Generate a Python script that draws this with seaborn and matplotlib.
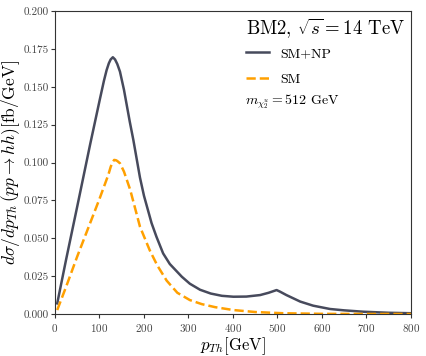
import numpy as np
import pandas as pd
import matplotlib
matplotlib.use("Agg")
import matplotlib.pyplot as plt
from matplotlib.ticker import MultipleLocator, FormatStrFormatter
from matplotlib.lines import Line2D
import seaborn as sns

# SM+NP curve (pT in GeV, dsigma/dpT in fb/GeV)
pt_np = [5, 25, 50, 79, 101, 110, 116, 121, 125, 130, 135, 140, 146, 155, 168,
         176, 191, 200, 217, 228, 243, 258, 285, 303, 326, 350, 375, 401, 430,
         461, 480, 498, 506, 520, 551, 580, 618, 650, 693, 750, 800]
sm_np = [0.007, 0.036, 0.071, 0.112, 0.142, 0.154, 0.161, 0.1655, 0.168,
         0.1695, 0.168, 0.165, 0.160, 0.148, 0.127, 0.115, 0.090, 0.078,
         0.060, 0.051, 0.040, 0.033, 0.0246, 0.020, 0.016, 0.0135, 0.012,
         0.0114, 0.0115, 0.0125, 0.014, 0.0158, 0.0147, 0.0125, 0.0082,
         0.0055, 0.0033, 0.0024, 0.0015, 0.0008, 0.0005]

# SM only
pt_sm = [5, 25, 50, 75, 100, 110, 120, 125, 129, 133, 137, 140, 146, 155, 169,
         191, 213, 230, 251, 275, 303, 330, 360, 401, 450, 513, 600, 700, 800]
sm = [0.0026, 0.018, 0.038, 0.057, 0.076, 0.084, 0.092, 0.097, 0.100,
      0.1017, 0.1015, 0.101, 0.0995, 0.094, 0.082, 0.0576, 0.042, 0.032,
      0.022, 0.014, 0.0092, 0.0065, 0.0045, 0.0026, 0.0013, 0.0005, 0.0001,
      0.00003, 0.0]

plt.rcParams['font.family'] = 'cmr10'
plt.rcParams['mathtext.fontset'] = 'cm'
plt.rcParams['axes.formatter.use_mathtext'] = True

dark = '#474a5c'
orange = '#ffa000'

fig = plt.figure(figsize=(4.27, 3.56), dpi=100)
ax = fig.add_axes([0.1288, 0.118, 0.8337, 0.851])

df_np = pd.DataFrame({'pt': pt_np, 'val': sm_np})
df_sm = pd.DataFrame({'pt': pt_sm, 'val': sm})

sns.lineplot(data=df_np, x='pt', y='val', ax=ax, color=dark, lw=1.8)
sns.lineplot(data=df_sm, x='pt', y='val', ax=ax, color=orange, lw=1.8,
             linestyle='--')

ax.set_xlim(0, 800)
ax.set_ylim(0, 0.2)
ax.xaxis.set_major_locator(MultipleLocator(100))
ax.yaxis.set_major_locator(MultipleLocator(0.025))
ax.yaxis.set_major_formatter(FormatStrFormatter('%.3f'))
ax.tick_params(direction='out', length=3, width=0.8, labelsize=8,
               colors='#333333', labelcolor='#444444')
ax.tick_params(axis='y', pad=1.5)
ax.tick_params(axis='x', pad=2.5)
for s in ax.spines.values():
    s.set_color('#333333')
    s.set_linewidth(0.8)

ax.set_xlabel(r'$p_{Th}$[GeV]', fontsize=12)
ax.xaxis.set_label_coords(0.5, -0.071)
ax.set_ylabel(r'$d\sigma/dp_{Th}\,(pp\rightarrow hh)$[fb/GeV]', fontsize=12.5)
ax.yaxis.set_label_coords(-0.094, 0.5)

handles = [Line2D([], [], color=dark, lw=1.8),
           Line2D([], [], color=orange, lw=1.8, linestyle='--')]
leg = ax.legend(handles, ['SM+NP', 'SM'], title=r'BM2, $\sqrt{s}=14$ TeV',
                loc='upper right', frameon=False, fontsize=10,
                title_fontsize=13.5, handlelength=1.65, handletextpad=0.8,
                labelspacing=0.95, borderaxespad=0.0,
                bbox_to_anchor=(1.0, 1.0))
leg._legend_box.align = 'left'
leg._legend_box.sep = 5  # tighter gap between title and entries
ax.text(0.535, 0.70, r'$m_{\chi_2^u}=512$ GeV', transform=ax.transAxes,
        fontsize=10, va='center', ha='left')

fig.savefig('out.png', dpi=100)
